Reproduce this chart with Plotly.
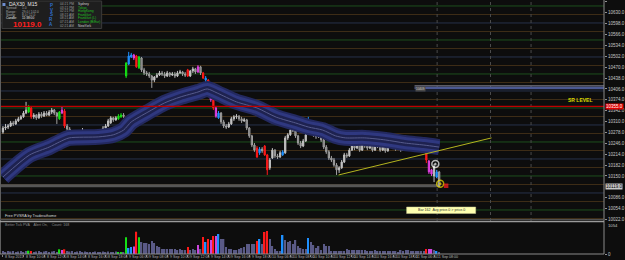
import plotly.graph_objects as go

# ---------------- data ----------------
time_labels = ["8 Sep 2015", "8 Sep 10:00", "8 Sep 12:00", "8 Sep 14:00", "8 Sep 16:00", "8 Sep 18:00",
               "9 Sep 06:00", "9 Sep 08:00", "9 Sep 10:00", "9 Sep 12:00", "9 Sep 14:00", "9 Sep 16:00",
               "9 Sep 18:00", "10 Sep 06:00", "10 Sep 08:00", "10 Sep 10:00", "10 Sep 12:00", "10 Sep 14:00",
               "10 Sep 16:00", "10 Sep 18:00", "11 Sep 06:00", "11 Sep 08:00"]
label_bars = [0, 8, 16, 24, 32, 40, 48, 56, 64, 72, 80, 88, 96, 104, 112, 120, 128, 136, 144, 152, 160, 168]

opens = [
    10279, 10291, 10294, 10297, 10306, 10303, 10312, 10318, 10324, 10335, 10338, 10350, 10324, 10329, 10321, 10332,
    10326, 10335, 10329, 10338, 10344, 10335, 10318, 10335, 10341, 10297, 10288, 10282, 10271, 10265, 10259, 10256,
    10274, 10279, 10268, 10265, 10271, 10274, 10282, 10279, 10291, 10297, 10306, 10321, 10315, 10318, 10324, 10329,
    10444, 10479, 10500, 10506, 10503, 10468, 10497, 10462, 10453, 10450, 10444, 10432, 10441, 10447, 10453, 10450,
    10444, 10453, 10447, 10450, 10444, 10453, 10456, 10450, 10462, 10444, 10459, 10465, 10456, 10471, 10453, 10438,
    10432, 10397, 10376, 10350, 10321, 10335, 10309, 10297, 10294, 10303, 10318, 10324, 10326, 10318, 10312, 10315,
    10291, 10268, 10241, 10232, 10218, 10229, 10238, 10212,
    10174, 10203, 10226, 10209, 10206, 10212, 10218, 10262, 10271, 10285, 10291, 10268, 10247, 10238, 10253, 10285,
    10306, 10285, 10271, 10265, 10276, 10256, 10235, 10221, 10203, 10197, 10182, 10168, 10174, 10191, 10212, 10209,
    10226, 10238, 10232, 10244, 10226, 10279, 10238, 10232, 10247, 10226, 10238, 10244, 10226, 10238, 10224, 10247,
    10256, 10235, 10229, 10238, 10226, 10235, 10241, 10229,
    10238, 10247, 10235, 10226, 10232, 10241, 10194, 10168, 10150, 10162, 10162]
highs = [
    10297, 10303, 10303, 10312, 10312, 10318, 10324, 10329, 10341, 10368, 10359, 10356, 10335, 10332, 10338, 10338,
    10341, 10341, 10344, 10350, 10347, 10338, 10341, 10353, 10347, 10303, 10294, 10285, 10276, 10271, 10268, 10291,
    10285, 10282, 10274, 10276, 10279, 10288, 10288, 10297, 10303, 10318, 10326, 10324, 10326, 10332, 10335, 10335,
    10485, 10515, 10512, 10509, 10506, 10503, 10500, 10468, 10459, 10456, 10447, 10444, 10453, 10459, 10459, 10456,
    10459, 10456, 10456, 10456, 10459, 10462, 10459, 10456, 10465, 10462, 10471, 10468, 10476, 10474, 10456, 10444,
    10435, 10400, 10379, 10356, 10341, 10338, 10315, 10303, 10309, 10324, 10329, 10332, 10329, 10324, 10321, 10318,
    10294, 10271, 10247, 10238, 10235, 10235, 10241, 10215,
    10203, 10232, 10229, 10215, 10224, 10226, 10268, 10276, 10291, 10306, 10294, 10271, 10253, 10259, 10276, 10324,
    10309, 10288, 10276, 10282, 10279, 10259, 10241, 10226, 10209, 10203, 10188, 10179, 10197, 10218, 10218, 10232,
    10276, 10244, 10250, 10247, 10285, 10282, 10244, 10253, 10250, 10244, 10250, 10247, 10244, 10241, 10253, 10271,
    10259, 10241, 10244, 10241, 10241, 10247, 10244, 10244,
    10253, 10250, 10241, 10238, 10244, 10247, 10197, 10171, 10185, 10168, 10165]
lows = [
    10274, 10285, 10288, 10294, 10297, 10300, 10309, 10315, 10321, 10332, 10335, 10318, 10318, 10315, 10318, 10321,
    10324, 10326, 10326, 10332, 10329, 10303, 10315, 10332, 10291, 10282, 10276, 10268, 10259, 10253, 10247, 10253,
    10268, 10262, 10259, 10262, 10265, 10271, 10274, 10276, 10285, 10294, 10303, 10309, 10312, 10315, 10321, 10321,
    10438, 10476, 10497, 10491, 10468, 10465, 10456, 10447, 10444, 10438, 10409, 10426, 10438, 10444, 10444, 10438,
    10441, 10441, 10444, 10438, 10441, 10450, 10444, 10441, 10441, 10441, 10453, 10450, 10453, 10447, 10435, 10426,
    10394, 10368, 10344, 10321, 10318, 10303, 10291, 10288, 10291, 10300, 10312, 10318, 10312, 10306, 10309, 10285,
    10262, 10235, 10221, 10203, 10212, 10218, 10209, 10153,
    10168, 10200, 10203, 10200, 10203, 10209, 10215, 10256, 10268, 10279, 10262, 10241, 10232, 10235, 10250, 10282,
    10279, 10265, 10259, 10262, 10250, 10229, 10215, 10197, 10191, 10177, 10153, 10159, 10171, 10188, 10203, 10206,
    10224, 10226, 10229, 10221, 10224, 10232, 10226, 10229, 10221, 10224, 10232, 10221, 10224, 10218, 10221, 10241,
    10229, 10224, 10226, 10221, 10224, 10229, 10224, 10226,
    10232, 10229, 10221, 10224, 10226, 10188, 10156, 10150, 10132, 10144, 10118]
closes = [
    10291, 10294, 10297, 10306, 10303, 10312, 10318, 10324, 10335, 10344, 10353, 10324, 10329, 10321, 10332, 10326,
    10335, 10329, 10338, 10344, 10335, 10326, 10338, 10344, 10297, 10288, 10282, 10271, 10265, 10259, 10256, 10274,
    10279, 10268, 10265, 10271, 10274, 10282, 10279, 10291, 10297, 10312, 10321, 10315, 10321, 10326, 10329, 10326,
    10482, 10503, 10506, 10497, 10471, 10500, 10462, 10453, 10450, 10444, 10432, 10441, 10447, 10453, 10450, 10444,
    10453, 10447, 10450, 10444, 10453, 10456, 10450, 10447, 10444, 10459, 10465, 10456, 10471, 10453, 10438, 10432,
    10397, 10374, 10350, 10326, 10335, 10309, 10297, 10294, 10303, 10318, 10324, 10326, 10318, 10312, 10315, 10291,
    10268, 10241, 10226, 10206, 10229, 10224, 10212, 10168,
    10197, 10226, 10209, 10206, 10218, 10221, 10262, 10271, 10285, 10291, 10268, 10247, 10238, 10253, 10271, 10306,
    10285, 10271, 10265, 10276, 10256, 10235, 10221, 10203, 10197, 10182, 10168, 10174, 10191, 10212, 10209, 10226,
    10238, 10232, 10244, 10226, 10279, 10238, 10232, 10247, 10226, 10238, 10244, 10226, 10238, 10224, 10247, 10256,
    10235, 10229, 10238, 10226, 10235, 10241, 10229, 10238,
    10247, 10235, 10226, 10232, 10238, 10197, 10162, 10156, 10179, 10147, 10119]
volumes = [
    102, 68, 102, 85, 102, 68, 85, 102, 68, 102, 112, 102, 68, 85, 102, 68,
    85, 102, 68, 85, 102, 68, 160, 136, 160, 102, 85, 102, 68, 85, 102, 68,
    85, 68, 51, 68, 85, 51, 68, 85, 68, 85, 68, 68, 85, 68, 68, 68,
    568, 204, 238, 258, 758, 568, 408, 374, 374, 340, 442, 374, 272, 238, 170, 170,
    170, 170, 170, 170, 136, 170, 136, 136, 238, 136, 170, 136, 306, 170, 578, 408,
    510, 476, 612, 612, 680, 510, 510, 238, 170, 170, 136, 136, 170, 204, 238, 340,
    340, 340, 340, 442, 510, 340, 748, 782,
    510, 272, 170, 102, 102, 646, 476, 408, 442, 340, 476, 272, 204, 170, 170, 544,
    408, 306, 204, 272, 136, 340, 272, 272, 102, 102, 102, 102, 102, 102, 170, 136,
    136, 136, 136, 136, 136, 136, 102, 102, 102, 136, 102, 102, 102, 102, 102, 102,
    102, 102, 68, 136, 102, 136, 136, 102,
    102, 102, 102, 102, 102, 170, 170, 170, 136, 102, 68]
# PVSRA colour class of the special bars (r=red, g=green, b=blue, m=magenta); others normal
special_bars = {10: 'g', 11: 'r', 22: 'g', 23: 'm', 24: 'r', 45: 'g', 46: 'g', 48: 'g', 49: 'b', 50: 'b',
                51: 'm', 52: 'r', 53: 'g', 72: 'r', 76: 'm', 78: 'r', 79: 'b', 80: 'r', 81: 'm', 82: 'r',
                83: 'm', 84: 'b', 99: 'r', 100: 'b', 102: 'r', 103: 'r', 109: 'b', 119: 'b', 165: 'r',
                166: 'm', 167: 'm', 169: 'b'}

band_bars = [0, 10.4, 18, 22, 25.8, 37.3, 43, 47, 50, 56.5, 63, 69, 76, 79.6, 83.5, 91, 99, 106.5, 114,
             119, 124.6, 129.6, 133.5, 141, 149, 156.5, 164, 170]
band_prices = [10147, 10212, 10235, 10250, 10262, 10265, 10271, 10285, 10309, 10338, 10365, 10382, 10397,
               10406, 10394, 10368, 10350, 10323, 10306, 10294, 10285, 10268, 10262, 10262, 10256, 10247,
               10241, 10235]

trend_bars = [130.8, 190.4]
trend_prices = [10153, 10262]

level_prices = [10025, 10050, 10075, 10100, 10125, 10150, 10175, 10200, 10225, 10250, 10275, 10300, 10325,
                10350, 10375, 10400, 10425, 10450, 10475, 10500, 10525, 10550, 10575, 10600, 10625, 10650]
price_ticks = [10662, 10630, 10598, 10566, 10534, 10502, 10470, 10438, 10406, 10374, 10342, 10310, 10278,
               10246, 10214, 10182, 10150, 10086, 10054, 10022]
volume_max = 1054
sr_level = 10355
bid_price = 10119
resist_line = 10409
resist_start = 160.4
vline_bars = [169.2, 190, 205.8]
mark_bars = [168.5, 170.4, 172.7]
mark_prices = [10185, 10127, 10121]

info_labels = ["Spread:", "Range:", "Swing:", "Candle:"]
info_values = ["1.0", "29.0 / 102.0", "8.0 / 12.0", "11:38:00"]
sessions = ["Sydney", "Tokyo", "HongKong", "Frankfurt", "Frankfurt (L)", "London (B/Eur)", "NewYork"]
session_times = ["04:21 PM", "03:21 PM", "02:21 PM", "08:21 AM", "08:21 AM", "07:21 AM", "02:21 AM"]
session_open = [False, True, True, True, True, True, False]

# ---------------- style ----------------
BG = "#0d0d0d"
FONT = "Liberation Sans"
W, H = 612.0, 254.0
XR = [-1.154, 234.23]
YR = [10017.6, 10667.6]
KCOL = {'r': '#ff1a1a', 'g': '#14e014', 'b': '#1e90ff', 'm': '#e040e0'}
VCOL = {'n': '#5a5a86', 'r': '#ff1a1a', 'g': '#14e014', 'b': '#1e90ff', 'm': '#cc44dd'}


def px(x):
    return x / W


def py(y):
    return 1 - y / H


n = len(closes)
kinds = [special_bars.get(i, 'n') for i in range(n)]
bars = list(range(n))

fig = go.Figure()

# moving-average envelope band
for w, c in [(16, '#232960'), (12, '#2f3880'), (6, '#1e2250'), (1, '#565b8c')]:
    fig.add_trace(go.Scatter(x=band_bars, y=band_prices, mode='lines', hoverinfo='skip',
                             line=dict(color=c, width=w, shape='spline', smoothing=0.7)))

# candles
for k in ['n', 'r', 'g', 'b', 'm']:
    idx = [i for i in bars if kinds[i] == k]
    if k == 'n':
        inc = dict(line=dict(color='#c0c0c0', width=1), fillcolor='#cfcfcf')
        dec = dict(line=dict(color='#a0a0a0', width=1), fillcolor='#6c6c6c')
    else:
        inc = dict(line=dict(color=KCOL[k], width=1), fillcolor=KCOL[k])
        dec = dict(line=dict(color=KCOL[k], width=1), fillcolor=KCOL[k])
    fig.add_trace(go.Candlestick(x=idx, open=[opens[i] for i in idx], high=[highs[i] for i in idx],
                                 low=[lows[i] for i in idx], close=[closes[i] for i in idx],
                                 increasing=inc, decreasing=dec, whiskerwidth=0, hoverinfo='skip',
                                 xaxis='x', yaxis='y'))

# trend line
fig.add_trace(go.Scatter(x=trend_bars, y=trend_prices, mode='lines', hoverinfo='skip',
                         line=dict(color='#b4b41e', width=1)))

# arrows / markers
fig.add_trace(go.Scatter(x=mark_bars, y=mark_prices, mode='markers', hoverinfo='skip',
                         marker=dict(symbol=['circle-open-dot', 'circle-open-dot', 'square'],
                                     size=[7, 7, 3],
                                     color=['#ffffff', '#f0e000', '#ff2020'],
                                     line=dict(width=1.5, color=['#ffffff', '#f0e000', '#ff2020']))))

# volume
fig.add_trace(go.Bar(x=bars, y=volumes, marker=dict(color=[VCOL[k] for k in kinds], line=dict(width=0)),
                     width=0.55, hoverinfo='skip', xaxis='x', yaxis='y2'))

shapes = []
lvl_col = {0: '#27314b', 50: '#1d4f1d', 25: '#3f2e17', 75: '#3f2e17'}
for p in level_prices:
    shapes.append(dict(type='line', xref='paper', x0=0, x1=1, yref='y', y0=p, y1=p, layer='below',
                       line=dict(color=lvl_col[p % 100], width=1)))
# bid line
shapes.append(dict(type='line', xref='x', x0=XR[0], x1=n - 1, yref='y', y0=bid_price + 2, y1=bid_price + 2,
                   layer='below', line=dict(color='#555555', width=3)))
# resistance line
shapes.append(dict(type='line', xref='x', x0=resist_start, x1=XR[1], yref='y', y0=resist_line + 6,
                   y1=resist_line + 6, layer='below', line=dict(color='#8c8c9c', width=1)))
shapes.append(dict(type='line', xref='x', x0=resist_start, x1=XR[1], yref='y', y0=resist_line, y1=resist_line,
                   layer='below', line=dict(color='#4a5892', width=2.5)))
# vertical dotted
for vb in vline_bars:
    shapes.append(dict(type='line', xref='x', x0=vb, x1=vb, yref='paper', y0=py(221), y1=1, layer='below',
                       line=dict(color='#4a4a4a', width=1, dash='dot')))
# SR level
shapes.append(dict(type='line', xref='paper', x0=0, x1=1, yref='y', y0=sr_level, y1=sr_level, layer='above',
                   line=dict(color='#c00000', width=1.3)))
# frame
shapes += [
    dict(type='line', xref='paper', yref='paper', x0=px(0.5), x1=px(0.5), y0=0, y1=1, line=dict(color='#606060', width=1)),
    dict(type='line', xref='paper', yref='paper', x0=1, x1=1, y0=0, y1=1, line=dict(color='#8a8a8a', width=1)),
    dict(type='line', xref='paper', yref='paper', x0=0, x1=1, y0=py(219.5), y1=py(219.5), line=dict(color='#505050', width=1)),
    dict(type='line', xref='paper', yref='paper', x0=0, x1=1, y0=py(221.5), y1=py(221.5), line=dict(color='#9a9a9a', width=1.5)),
    dict(type='line', xref='paper', yref='paper', x0=0, x1=1, y0=0, y1=0, line=dict(color='#8a8a8a', width=1)),
]
# info panel
shapes.append(dict(type='rect', xref='paper', yref='paper', x0=px(2), x1=px(103), y0=py(28.5), y1=py(1),
                   fillcolor='#1e1e1e', line=dict(color='#3a3a3a', width=1), layer='above'))
shapes.append(dict(type='rect', xref='paper', yref='paper', x0=px(2.5), x1=px(5.5), y0=py(6), y1=py(3),
                   fillcolor='#6f8fd0', line=dict(width=0), layer='above'))
# tooltip
shapes.append(dict(type='rect', xref='paper', yref='paper', x0=px(412), x1=px(482), y0=py(213.5), y1=py(207),
                   fillcolor='#ffffb0', line=dict(color='#c8c890', width=0.5), layer='above'))

ann = []


def txt(x, y, t, size, color, anchor='left', bold=False, **kw):
    a = dict(xref='paper', yref='paper', x=px(x), y=py(y), text=('<b>%s</b>' % t) if bold else t,
             showarrow=False, xanchor=anchor, yanchor='middle',
             font=dict(size=size, color=color, family=FONT))
    a.update(kw)
    ann.append(a)


txt(7, 4.5, "DAX30  M15", 5, '#e8e8e8')
for j, (lab, val) in enumerate(zip(info_labels, info_values)):
    col = '#e8e8e8' if lab == "Candle:" else '#a8a8a8'
    txt(4, 8.2 + 3.3 * j, lab, 3.2, col)
    txt(20, 8.2 + 3.3 * j, val, 3.2, col)
txt(28, 24.8, "%.1f" % bid_price, 8, '#ff2020', anchor='center', bold=True)
for j, ch in enumerate("PVSRA"):
    txt(52, 5.5 + 4.7 * j, ch, 4.5, '#2f6fd0', anchor='center', bold=True)
for j, (s, t, op) in enumerate(zip(sessions, session_times, session_open)):
    txt(59, 4 + 3.6 * j, t, 3.3, '#9a9a9a')
    txt(77, 4 + 3.6 * j, s, 3.3, '#22c022' if op else '#d0d0d0')

txt(588, 100.5, "SR LEVEL", 5, '#d8d800', anchor='center', bold=True)
txt(3, 216, "Free PVSRA by Traderathome", 3.8, '#d8d8d8')
txt(3, 224.8, "Better Tick PVA    Alert On,    Count: 168", 3.6, '#8c8c8c')
txt(447, 210.3, "Bar 162  Avg price.0 &gt; price.0", 3.6, '#303030', anchor='center')
# volume scale top label
txt(614.5, 225.5, "%d" % volume_max, 4.2, '#c8c8c8')

# price boxes on the axis
ann.append(dict(xref='paper', yref='y', x=px(613), y=bid_price, text="%.1f" % bid_price, showarrow=False,
                xanchor='left', yanchor='middle', bgcolor='#c8c8c8', borderpad=0,
                font=dict(size=4.5, color='#000000', family=FONT)))
ann.append(dict(xref='paper', yref='y', x=px(613), y=sr_level, text="%.1f" % sr_level, showarrow=False,
                xanchor='left', yanchor='middle', bgcolor='#e00000', borderpad=0,
                font=dict(size=4.5, color='#ffffff', family=FONT)))
ann.append(dict(xref='x', yref='y', x=resist_start + 0.3, y=resist_line - 4, text="%d" % resist_line,
                showarrow=False, xanchor='left', yanchor='middle', bgcolor='#4a4a4a', borderpad=0,
                font=dict(size=3, color='#d0d0d0', family=FONT)))
# time labels
for b, t in zip(label_bars, time_labels):
    ann.append(dict(xref='x', yref='paper', x=b, y=py(257.3), text=t, showarrow=False, xanchor='left',
                    yanchor='middle', xshift=0.5, font=dict(size=3.6, color='#b4b4b4', family=FONT)))

fig.update_layout(
    width=625, height=260, margin=dict(l=0, r=13, t=0, b=6),
    paper_bgcolor=BG, plot_bgcolor=BG, showlegend=False,
    boxgap=0.3,
    xaxis=dict(range=XR, anchor='y2', showgrid=False, zeroline=False, showticklabels=False,
               ticks='outside', tickvals=label_bars, ticklen=2, tickcolor='#808080',
               rangeslider=dict(visible=False), showline=False, fixedrange=True),
    yaxis=dict(domain=[1 - 221 / H, 1], range=YR, side='right', anchor='x', tickvals=price_ticks,
               tickformat='.1f', ticks='outside', ticklen=2, tickcolor='#909090', showgrid=False,
               zeroline=False, tickfont=dict(size=4.5, color='#c8c8c8', family=FONT), fixedrange=True),
    yaxis2=dict(domain=[0, 31 / H], range=[0, volume_max], side='right', anchor='x', tickvals=[0],
                ticktext=['0'], ticks='outside', ticklen=2, tickcolor='#909090', showgrid=False,
                zeroline=False, tickfont=dict(size=4.5, color='#c8c8c8', family=FONT), fixedrange=True),
    shapes=shapes, annotations=ann,
)

fig.write_html("out.html")
